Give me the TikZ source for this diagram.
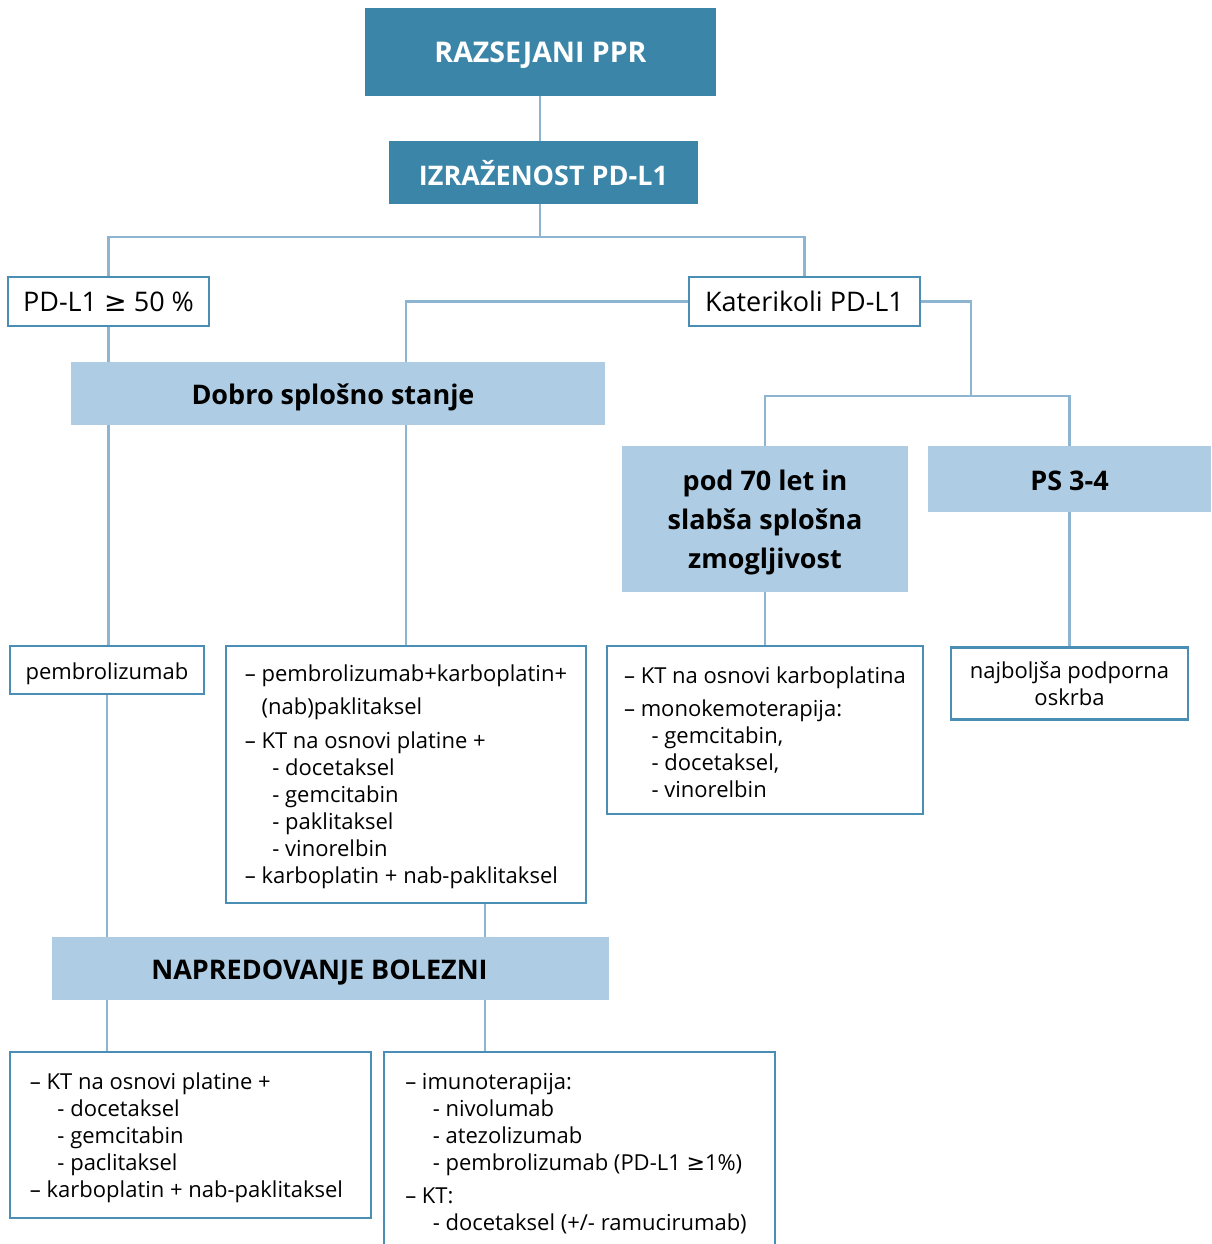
\documentclass[tikz,border=0pt]{standalone}
\usepackage{fontspec}
\setmainfont{Open Sans}
\newfontfamily\symf{DejaVu Sans}
\usetikzlibrary{backgrounds}
\definecolor{darkc}{HTML}{3A85A8}
\definecolor{lightc}{HTML}{AECDE4}
\definecolor{edgec}{HTML}{4A8DB5}
\definecolor{connc}{HTML}{8DB5D1}
\newcommand\ind{\hspace*{0.76em}}
\newcommand\subind{\hspace*{1.25em}}
\newcommand\firststrut{\rule{0pt}{22pt}}
\tikzset{
  darkbox/.style={fill=darkc, text=white, inner sep=0pt, text depth=0pt, font=\bfseries\fontsize{27}{32}\selectfont},
  lightbase/.style={fill=lightc, text=black, inner sep=0pt, align=center, font=\bfseries\fontsize{27}{39}\selectfont},
  lightbox/.style={lightbase, text height=22pt, text depth=0pt},
  framebox/.style={draw=edgec, line width=2.5pt, fill=white, inner sep=0pt, align=center, font=\fontsize{27}{30}\selectfont},
  listbox/.style={draw=edgec, line width=2.5pt, fill=white, inner sep=0pt, align=left, font=\fontsize{22}{27}\selectfont},
  connector/.style={draw=connc, line width=2.5pt}
}
\begin{document}
\begin{tikzpicture}[x=1pt,y=-1pt]
\clip (0,0) rectangle (1211,1244);
\useasboundingbox (0,0) rectangle (1211,1244);
% nodes
\node[darkbox, font=\bfseries\fontsize{28.5}{32}\selectfont, minimum width=351pt, minimum height=88pt] (top) at (540.5,52) {RAZSEJANI PPR};
\node[darkbox, minimum width=309pt, minimum height=63pt] (izr) at (543.5,172.5) {IZRAŽENOST PD-L1};
\node[framebox, minimum width=201pt, minimum height=49pt] (pd50) at (108.5,301.5) {PD-L1 {\symf ≥} 50 \%};
\node[framebox, minimum width=231pt, minimum height=49pt] (kat) at (804.5,301.5) {Katerikoli PD-L1};
\node[lightbox, minimum width=534pt, minimum height=63pt] (dobro) at (338,393.5) {Dobro splošno stanje\hspace*{10pt}};
\node[lightbase, text depth=0pt, minimum width=286pt, minimum height=146pt] (pod) at (765,519) {pod 70 let in\\slabša splošna\\zmogljivost};
\node[lightbox, minimum width=283pt, minimum height=66pt] (ps) at (1069.5,479) {PS 3-4};
\node[framebox, font=\fontsize{22}{27}\selectfont, text height=18pt, text depth=0pt, minimum width=194pt, minimum height=48pt] (pembro) at (107,670) {pembrolizumab};
\node[listbox, minimum width=360pt, minimum height=257pt] (big) at (406,774.5) {%
\firststrut– pembrolizumab+karboplatin+\\[6pt]
\ind(nab)paklitaksel\\[7pt]
– KT na osnovi platine +\\
\subind- docetaksel\\
\subind- gemcitabin\\
\subind- paklitaksel\\
\subind- vinorelbin\\
– karboplatin + nab-paklitaksel};
\node[listbox, minimum width=316pt, minimum height=168pt] (ktk) at (765,730) {%
\firststrut– KT na osnovi karboplatina\\[6pt]
– monokemoterapija:\\
\subind- gemcitabin,\\
\subind- docetaksel,\\
\subind- vinorelbin};
\node[framebox, font=\fontsize{22}{27}\selectfont, minimum width=237pt, minimum height=72pt] (najb) at (1069.5,683.5) {najboljša podporna\\oskrba};
\node[lightbox, minimum width=557pt, minimum height=63pt] (napr) at (330.5,968.5) {NAPREDOVANJE BOLEZNI\hspace*{22pt}};
\node[listbox, minimum width=361pt, minimum height=166pt] (lb) at (190.5,1135) {%
\firststrut– KT na osnovi platine +\hspace*{8pt}\\
\subind- docetaksel\\
\subind- gemcitabin\\
\subind- paclitaksel\\
– karboplatin + nab-paklitaksel\hspace*{8pt}};
\node[listbox, minimum width=391pt, minimum height=198pt] (rb) at (579.5,1151) {%
\firststrut– imunoterapija:\\
\subind- nivolumab\\
\subind- atezolizumab\\
\subind- pembrolizumab (PD-L1 {\symf ≥}1\%)\\[6pt]
– KT:\\
\subind- docetaksel (+/- ramucirumab)\hspace*{7pt}};
\coordinate (j1) at (540,237);
\coordinate (j2) at (971,396);
\coordinate (x485) at (485,0);
% connectors
\begin{scope}[on background layer]
\draw[connector] (top.south -| j1) -- (izr.north -| j1);
\draw[connector] (izr.south -| j1) -- (j1);
\draw[connector] (pd50.north) |- (j1) -| (kat.north);
\draw[connector] (pd50.south) -- (pd50.south |- pembro.north);
\draw[connector] (kat.west) -| (big.north);
\draw[connector] (kat.east) -| (j2);
\draw[connector] (pod.north) |- (j2) -| (ps.north);
\draw[connector] (pod.south) -- (ktk.north);
\draw[connector] (ps.south) -- (najb.north);
\draw[connector] (pembro.south) -- (pembro.south |- lb.north);
\draw[connector] (big.south -| x485) -- (rb.north -| x485);
\end{scope}
\end{tikzpicture}
\end{document}
